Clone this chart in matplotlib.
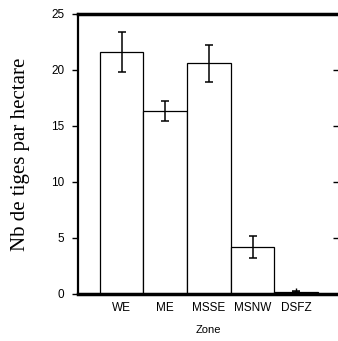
import numpy as np
import matplotlib as mpl
mpl.use('Agg')
import matplotlib.pyplot as plt

zones = ['WE', 'ME', 'MSSE', 'MSNW', 'DSFZ']
means = [21.6, 16.35, 20.6, 4.2, 0.2]
errs = [1.75, 0.92, 1.67, 1.0, 0.05]

fig = plt.figure(figsize=(3.38, 3.41), dpi=100)
ax = fig.add_axes([78 / 338, 1 - 294 / 341, 261 / 338, 280 / 341])

x = np.arange(1, len(zones) + 1)
ax.bar(x, means, width=1.0, color='white', edgecolor='black', lw=0.9, zorder=2)
ax.errorbar(x, means, yerr=errs, fmt='none', ecolor='black', elinewidth=1.1,
            capsize=3, capthick=1.1, zorder=3)

ax.set_xlim(0, 5.98)
ax.set_ylim(0, 25)
ax.set_yticks([0, 5, 10, 15, 20, 25])
ax.set_xticks(x)
ax.set_xticklabels(zones)

sans = {'family': 'Liberation Sans', 'size': 8}
for lab in ax.get_xticklabels() + ax.get_yticklabels():
    lab.set_fontfamily('Liberation Sans')
    lab.set_fontsize(8.5)

ax.spines['bottom'].set_linewidth(2.5)
ax.spines['top'].set_linewidth(2.5)
ax.spines['left'].set_linewidth(1.6)
ax.spines['right'].set_visible(False)
ax.spines['left'].set_zorder(4)

ax.tick_params(axis='y', direction='out', length=4, width=1, pad=6)
ax.tick_params(axis='x', direction='in', length=4, width=1, pad=6)
# inward ticks on the right side
ax.tick_params(axis='y', which='both', right=True, labelright=False)
for t in ax.yaxis.get_major_ticks():
    t.tick2line.set_marker(mpl.lines.TICKLEFT)
    t.tick2line.set_markersize(4)

ax.set_xlabel('Zone', fontdict=sans, labelpad=8)
ax.set_ylabel('Nb de tiges par hectare', family='Liberation Serif', size=15, labelpad=15)

fig.savefig('out.png', dpi=100)
plt.close()
